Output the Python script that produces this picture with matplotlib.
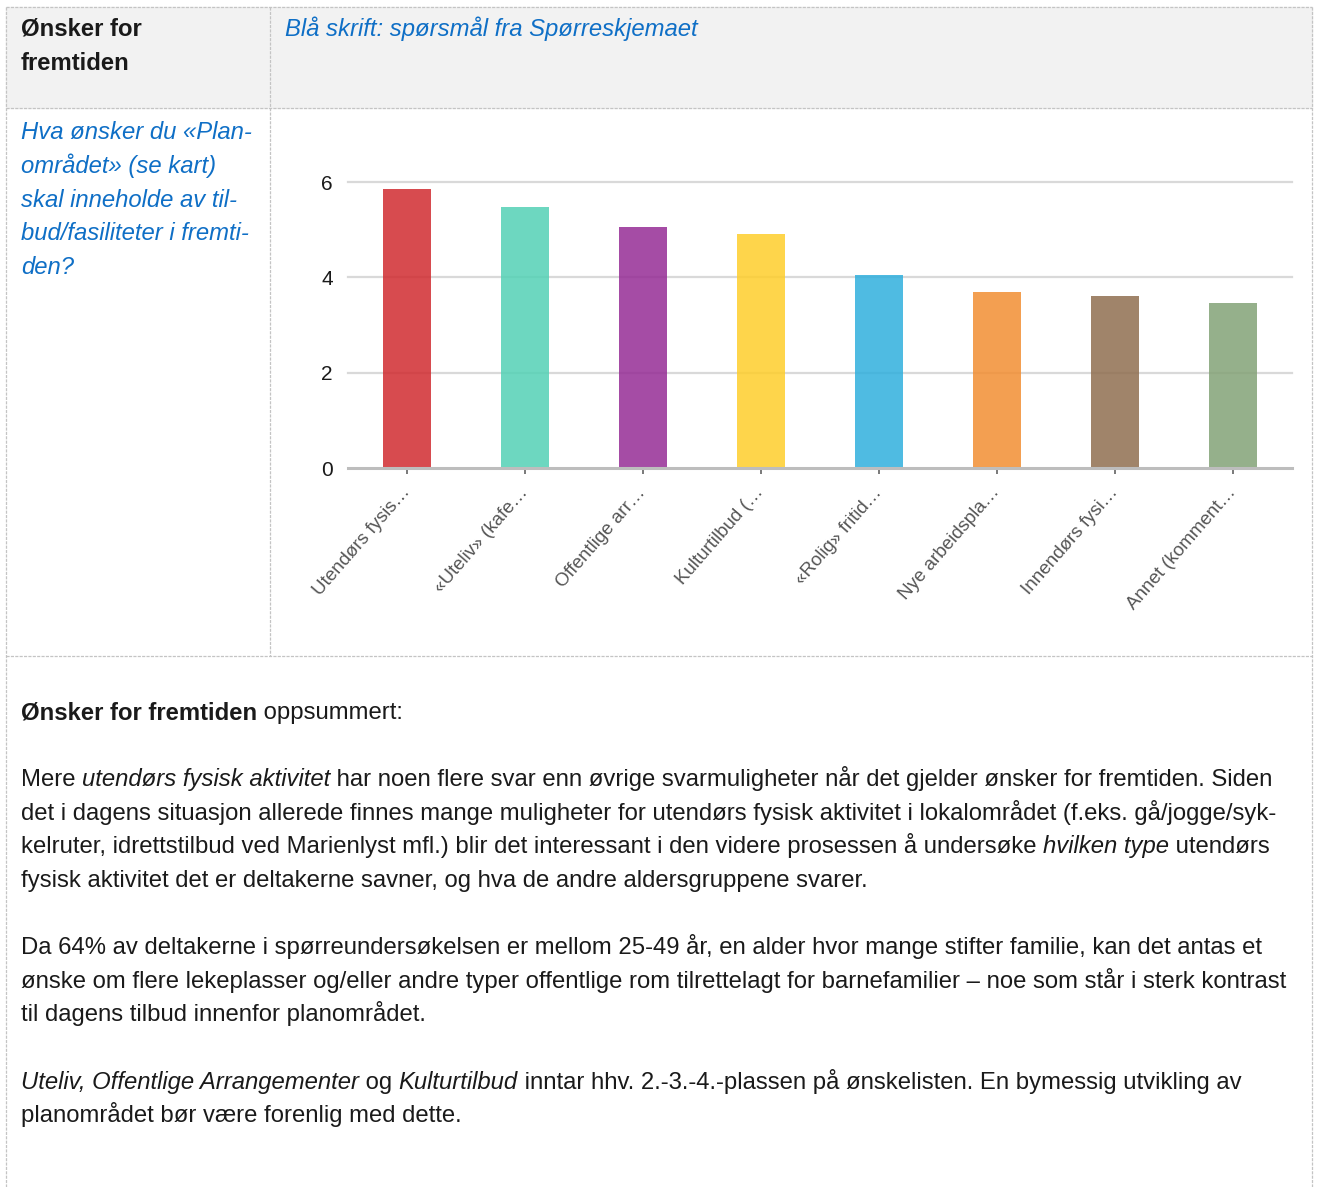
import matplotlib
matplotlib.use('Agg')
import matplotlib.pyplot as plt

W, H = 1319, 1187

categories = ['Utendørs fysis…', '«Uteliv» (kafe…', 'Offentlige arr…', 'Kulturtilbud (…',
              '«Rolig» fritid…', 'Nye arbeidspla…', 'Innendørs fysi…', 'Annet (komment…']
values = [5.85, 5.47, 5.05, 4.91, 4.04, 3.70, 3.61, 3.46]
bar_colors = ['#d02b30', '#53d1b5', '#952c95', '#fece2b', '#30afdd', '#f28e32', '#8f6e50', '#83a277']
y_ticks = [0, 2, 4, 6]

header_left = ['Ønsker for', 'fremtiden']
header_right = 'Blå skrift: spørsmål fra Spørreskjemaet'
question = ['Hva ønsker du «Plan-', 'området» (se kart)', 'skal inneholde av til-',
            'bud/fasiliteter i fremti-', 'den?']

# each line is a list of (text, style) runs; None = empty line
summary = [
    [('Ønsker for fremtiden', 'b'), (' oppsummert:', 'n')],
    None,
    [('Mere ', 'n'), ('utendørs fysisk aktivitet', 'i'),
     (' har noen flere svar enn øvrige svarmuligheter når det gjelder ønsker for fremtiden. Siden', 'n')],
    [('det i dagens situasjon allerede finnes mange muligheter for utendørs fysisk aktivitet i lokalområdet (f.eks. gå/jogge/syk-', 'n')],
    [('kelruter, idrettstilbud ved Marienlyst mfl.) blir det interessant i den videre prosessen å undersøke ', 'n'),
     ('hvilken type', 'i'), (' utendørs', 'n')],
    [('fysisk aktivitet det er deltakerne savner, og hva de andre aldersgruppene svarer.', 'n')],
    None,
    [('Da 64% av deltakerne i spørreundersøkelsen er mellom 25-49 år, en alder hvor mange stifter familie, kan det antas et', 'n')],
    [('ønske om flere lekeplasser og/eller andre typer offentlige rom tilrettelagt for barnefamilier – noe som står i sterk kontrast', 'n')],
    [('til dagens tilbud innenfor planområdet.', 'n')],
    None,
    [('Uteliv, Offentlige Arrangementer', 'i'), (' og ', 'n'), ('Kulturtilbud', 'i'),
     (' inntar hhv. 2.-3.-4.-plassen på ønskelisten. En bymessig utvikling av', 'n')],
    [('planområdet bør være forenlig med dette.', 'n')],
]

plt.rcParams['font.family'] = ['Liberation Sans', 'DejaVu Sans']
TXT = '#1a1a1a'
BLUE = '#0f6fc6'
FS = 17.2

fig = plt.figure(figsize=(W / 100, H / 100), dpi=100)
page = fig.add_axes([0, 0, 1, 1])
page.set_xlim(0, W)
page.set_ylim(H, 0)
page.axis('off')

# table frame
page.fill_between([6, 1312], 7, 108, color='#f2f2f2', zorder=0)
dash = dict(color='#c4c4c4', lw=0.9, ls=(0, (2.5, 1)), zorder=1)
page.plot([6, 1312], [7, 7], **dash)
page.plot([6, 1312], [108, 108], **dash)
page.plot([6, 1312], [656, 656], **dash)
page.plot([6, 6], [7, H], **dash)
page.plot([1312, 1312], [7, H], **dash)
page.plot([270, 270], [7, 656], **dash)

for i, s in enumerate(header_left):
    page.text(21, 36 + i * 34, s, fontsize=FS, fontweight='bold', color=TXT, va='baseline')
page.text(285, 36, header_right, fontsize=FS, fontstyle='italic', color=BLUE, va='baseline')
for i, s in enumerate(question):
    page.text(21, 139 + i * 33.8, s, fontsize=FS, fontstyle='italic', color=BLUE, va='baseline')

renderer = fig.canvas.get_renderer()


def draw_runs(x, y, runs):
    for txt, st in runs:
        kw = dict(fontsize=FS, color=TXT, va='baseline', ha='left',
                  fontweight='bold' if st == 'b' else 'normal',
                  fontstyle='italic' if st == 'i' else 'normal')
        page.text(x, y, txt, **kw)
        probe = page.text(0, 0, txt + '|', **kw)
        pipe = page.text(0, 0, '|', **kw)
        w = probe.get_window_extent(renderer).width - pipe.get_window_extent(renderer).width
        probe.remove()
        pipe.remove()
        x += w


for i, line in enumerate(summary):
    if line:
        draw_runs(21, 719 + i * 33.6, line)

# bar chart
ax = fig.add_axes([348 / W, 1 - 468 / H, (1292 - 348) / W, (468 - 182) / H])
xs = range(len(values))
ax.bar(xs, values, width=0.41, color=bar_colors, alpha=0.85, zorder=2)
ax.set_xlim(-0.5, len(values) - 0.5)
ax.set_ylim(0, 6)
for v in y_ticks[1:]:
    ax.axhline(v, color='#d9d9d9', lw=1.6, zorder=1, clip_on=False)
ax.axhline(0, color='#bdbdbd', lw=2.2, zorder=3, clip_on=False)
for s in ax.spines.values():
    s.set_visible(False)
ax.set_yticks(y_ticks)
ax.set_yticklabels([str(v) for v in y_ticks], fontsize=15, color=TXT)
ax.tick_params(axis='y', length=0, pad=11)
ax.set_xticks(list(xs))
ax.set_xticklabels(categories, rotation=49, ha='right', va='center', rotation_mode='anchor',
                   fontsize=13.5, color='#555555')
ax.tick_params(axis='x', length=4.5, width=1.1, color='#555555', pad=11)
ax.set_facecolor('none')

fig.savefig('out.png', dpi=100, facecolor='white')
